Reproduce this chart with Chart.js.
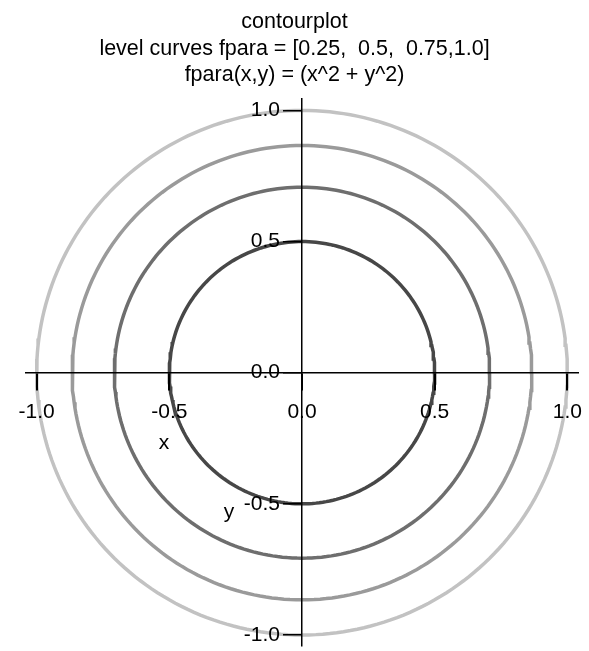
<!DOCTYPE html>
<html>
<head>
<meta charset="utf-8">
<script src="https://cdn.jsdelivr.net/npm/chart.js@4.4.1/dist/chart.umd.min.js"></script>
<style>
  html, body { margin: 0; padding: 0; background: #ffffff; }
  #chart_area { width: 589px; height: 651px; }
</style>
</head>
<body>
<div id="chart_area"><canvas id="contour" width="589" height="651"></canvas></div>
<script>
// Level values of fpara(x,y) = x^2 + y^2 that get a curve each
const levels = [0.25, 0.5, 0.75, 1.0];
const levelColors = ["#474747", "#6e6e6e", "#9a9a9a", "#c2c2c2"];

// Tick labels on the two centred axes
const xTicks = [-1.0, -0.5, 0.0, 0.5, 1.0];
const yTicks = [1.0, 0.5, 0.0, -0.5, -1.0];

const titleLines = [
    "contourplot",
    "level curves fpara = [0.25,  0.5,  0.75,1.0]",
    "fpara(x,y) = (x^2 + y^2)"
];

const fontFamily = "'Liberation Sans', Arial, sans-serif";

/**
 * Traces the level curve fpara(x,y) = level, which is a circle of radius sqrt(level).
 * @param level The value of fpara along the curve.
 * @returns A list of {x, y} points going once round the curve.
 */
function level_curve(level) {
    const r = Math.sqrt(level);
    const pts = [];
    const steps = 240;
    for (let i = 0; i <= steps; i++) {
        const a = (i / steps) * 2 * Math.PI;
        pts.push({ x: r * Math.cos(a), y: r * Math.sin(a) });
    }
    return pts;
}

// Draws the "x" and "y" axis names next to the axes
const axisNames = {
    id: "axisNames",
    afterLayout(chart) {
        // centre the title on the whole canvas, not on the padded area
        chart.titleBlock.left = 0;
        chart.titleBlock.right = chart.width;
    },
    afterDraw(chart) {
        const ctx = chart.ctx;
        const xs = chart.scales.x;
        const ys = chart.scales.y;
        ctx.save();
        ctx.fillStyle = "#000";
        ctx.font = "21px " + fontFamily;
        ctx.textAlign = "center";
        ctx.textBaseline = "middle";
        ctx.fillText("x", xs.getPixelForValue(-0.52), ys.getPixelForValue(-0.27));
        ctx.fillText("y", xs.getPixelForValue(-0.275), ys.getPixelForValue(-0.53));
        ctx.restore();
    }
};

const datasets = levels.map(function (lv, i) {
    return {
        label: "fpara = " + lv,
        data: level_curve(lv),
        showLine: true,
        borderColor: levelColors[i],
        borderWidth: 3.5,
        pointRadius: 0,
        tension: 0,
        fill: false
    };
});

new Chart("contour", {
    type: "scatter",
    data: { datasets: datasets },
    plugins: [axisNames],
    options: {
        responsive: false,
        animation: false,
        devicePixelRatio: 1,
        layout: { padding: { left: 26, right: 11, top: 0, bottom: 5 } },
        plugins: {
            legend: { display: false },
            tooltip: { enabled: false },
            title: {
                display: true,
                text: titleLines,
                color: "#000",
                font: { family: fontFamily, size: 21.5, weight: "normal", lineHeight: 1.23 },
                padding: { top: 9, bottom: 10 }
            }
        },
        scales: {
            x: {
                type: "linear",
                position: { y: 0 },
                min: -1.04,
                max: 1.04,
                afterFit: function (s) { s.height = 0; s.paddingLeft = 0; s.paddingRight = 0; },
                afterBuildTicks: function (s) { s.ticks = xTicks.map(v => ({ value: v })); },
                grid: { z: 1, drawOnChartArea: false, drawTicks: true, tickLength: 17, color: "#000", lineWidth: 2 },
                border: { z: 1, display: true, color: "#000", width: 1.5 },
                ticks: {
                    z: 1,
                    color: "#000",
                    padding: 10,
                    maxRotation: 0,
                    autoSkip: false,
                    font: { family: fontFamily, size: 21 },
                    callback: v => v.toFixed(1)
                }
            },
            y: {
                type: "linear",
                position: "center",
                min: -1.042,
                max: 1.046,
                afterFit: function (s) { s.width = 0; s.paddingTop = 0; s.paddingBottom = 0; },
                afterBuildTicks: function (s) { s.ticks = yTicks.map(v => ({ value: v })); },
                grid: { z: 1, drawOnChartArea: false, drawTicks: true, tickLength: 18, color: "#000", lineWidth: 1.5 },
                border: { z: 1, display: true, color: "#000", width: 1.5 },
                ticks: {
                    z: 1,
                    color: "#000",
                    padding: 4,
                    autoSkip: false,
                    font: { family: fontFamily, size: 21 },
                    callback: v => v.toFixed(1)
                }
            }
        }
    }
});
</script>
</body>
</html>
